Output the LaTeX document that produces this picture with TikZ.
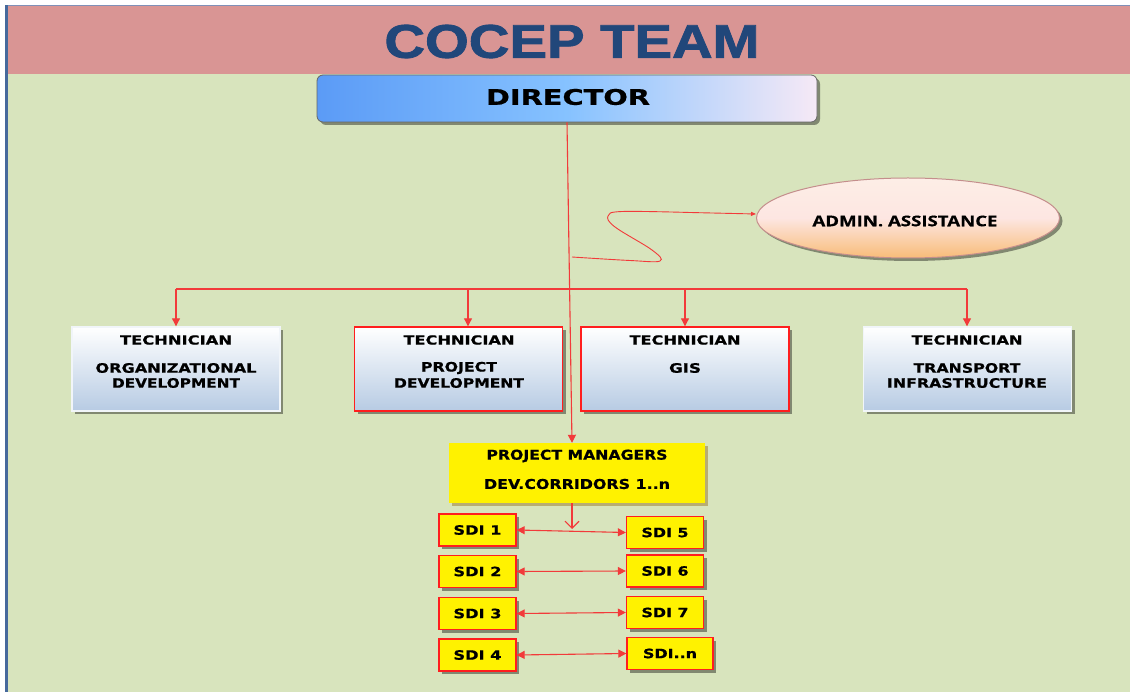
\documentclass[tikz,border=0pt]{standalone}
\usepackage{graphicx}
\usepackage{fontspec}
\setmainfont{DejaVu Sans}[BoldFeatures={FakeBold=0.6}]
\newfontfamily\titlefont{Liberation Sans Bold}[FakeBold=1.6]
\newfontfamily\adminfont{Open Sans}[BoldFeatures={FakeBold=0.4}]
\usetikzlibrary{arrows.meta,shadows,shapes.geometric}

% one line of text stretched to a given width and cap height (in pt)
\newcommand{\fitline}[3]{\resizebox{#1pt}{#2pt}{#3}}

\definecolor{bandpink}{HTML}{D99594}
\definecolor{bandgreen}{HTML}{D8E4BD}
\definecolor{frameblue}{HTML}{46699C}
\definecolor{topline}{HTML}{8090B8}
\definecolor{titleblue}{HTML}{21477A}
\definecolor{dirleft}{HTML}{5B9BF6}
\definecolor{dirmid}{HTML}{86C2FF}
\definecolor{dirright}{HTML}{F6E9F6}
\definecolor{techblue}{HTML}{B7CBE3}
\definecolor{admtop}{HTML}{FDEEE6}
\definecolor{admmid}{HTML}{FDE6E2}
\definecolor{admbot}{HTML}{F8BC78}
\definecolor{admedge}{HTML}{C48E8C}
\definecolor{linered}{HTML}{F23A3A}
\definecolor{boxred}{HTML}{FF1E1E}
\definecolor{pmshadow}{HTML}{B0A060}

\begin{document}
\begin{tikzpicture}[x=1pt,y=-1pt,
  conn/.style={draw=linered, line width=1.1pt},
  arr/.style={conn, -{Triangle[length=8pt,width=8pt]}},
  dbl/.style={conn, {Triangle[length=8pt,width=8pt]}-{Triangle[length=8pt,width=8pt]}},
  boxshadow/.style={drop shadow={shadow xshift=3pt, shadow yshift=-3pt, fill=black, opacity=.4}},
  dirbox/.style={draw=gray!80!black, line width=0.8pt, rounded corners=6pt,
    left color=dirleft, right color=dirright, middle color=dirmid,
    minimum width=500, minimum height=47, inner sep=0pt, boxshadow},
  techbox/.style={draw=#1, line width=1.4pt, top color=white, bottom color=techblue,
    minimum width=208, minimum height=84, inner sep=0pt, boxshadow},
  pmbox/.style={fill=yellow, minimum width=256, minimum height=60, inner sep=0pt,
    drop shadow={shadow xshift=3pt, shadow yshift=-3pt, fill=pmshadow, opacity=.8}},
  sdibox/.style={draw=boxred, line width=1.3pt, fill=yellow, minimum width=77,
    minimum height=32, inner sep=0pt, boxshadow},
  lbl/.style={inner sep=0pt, font=\bfseries}
]
\useasboundingbox (0,0) rectangle (1130,692);

% page frame and bands
\fill[white] (0,0) rectangle (1130,692);
\fill[bandgreen] (7,74) rectangle (1130,692);
\fill[bandpink] (7,6.5) rectangle (1130,74);
\draw[topline, line width=1.5pt] (5,5.5) -- (1130,5.5);
\fill[frameblue] (4.5,5) rectangle (7.5,692);

% heading
\node[inner sep=0pt, text=titleblue] (title) at (572,41.5)
  {\titlefont\fitline{375}{33}{COCEP TEAM}};

% director
\node[dirbox] (dir) at (567,98.5) {};
\node[lbl] (dirtext) at (568,97) {\fitline{164}{16}{DIRECTOR}};

% admin assistance
\node[ellipse, draw=admedge, line width=1pt, top color=admtop, bottom color=admbot,
  middle color=admmid, minimum width=303, minimum height=80, boxshadow] (adm) at (908,218) {};
\node[inner sep=0pt] (admtext) at (905,221) {\adminfont\bfseries\fitline{185}{10.7}{ADMIN. ASSISTANCE}};

% technicians
\node[techbox=white!80!techblue] (t1) at (176,369) {};
\node[techbox=boxred] (t2) at (458.5,369) {};
\node[techbox=boxred] (t3) at (685,369) {};
\node[techbox=white!80!techblue] (t4) at (967.5,369) {};

\node[lbl] (t1a) at (176,340) {\fitline{112}{9.3}{TECHNICIAN}};
\node[lbl] (t1b) at (176,368) {\fitline{161}{9.6}{ORGANIZATIONAL}};
\node[lbl] (t1c) at (176,383) {\fitline{128}{9.6}{DEVELOPMENT}};
\node[lbl] (t2a) at (459,340) {\fitline{111}{9.3}{TECHNICIAN}};
\node[lbl] (t2b) at (459,368) {\fitline{76}{9.6}{PROJECT}};
\node[lbl] (t2c) at (459,383) {\fitline{130}{9.6}{DEVELOPMENT}};
\node[lbl] (t3a) at (685,340) {\fitline{111}{9.3}{TECHNICIAN}};
\node[lbl] (t3b) at (685,368) {\fitline{32}{9.6}{GIS}};
\node[lbl] (t4a) at (967,340) {\fitline{111}{9.3}{TECHNICIAN}};
\node[lbl] (t4b) at (967,368) {\fitline{107}{9.6}{TRANSPORT}};
\node[lbl] (t4c) at (967,383) {\fitline{160}{9.6}{INFRASTRUCTURE}};

% project managers
\node[pmbox] (pm) at (577,473) {};
\node[lbl] (pma) at (577,456) {\fitline{181}{10}{PROJECT MANAGERS}};
\node[lbl] (pmb) at (577,484) {\fitline{186}{10}{DEV.CORRIDORS 1..n}};

% SDI boxes
\node[sdibox] (s1) at (477.5,530) {\fitline{48}{9.5}{\bfseries SDI 1}};
\node[sdibox] (s2) at (477.5,571.5) {\fitline{48}{9.5}{\bfseries SDI 2}};
\node[sdibox] (s3) at (477.5,613.5) {\fitline{48}{9.5}{\bfseries SDI 3}};
\node[sdibox] (s4) at (477.5,655) {\fitline{48}{9.5}{\bfseries SDI 4}};
\node[sdibox] (s5) at (665,532.5) {\fitline{47}{9.5}{\bfseries SDI 5}};
\node[sdibox] (s6) at (665,571) {\fitline{47}{9.5}{\bfseries SDI 6}};
\node[sdibox] (s7) at (665,612.5) {\fitline{47}{9.5}{\bfseries SDI 7}};
\node[sdibox, minimum width=86] (sn) at (670,653.5) {\fitline{54}{9.5}{\bfseries SDI..n}};

% director down to the project managers
\draw[arr] (dir.south) -- ([xshift=-5pt]pm.north);

% bus to the technicians
\coordinate (b1) at (176,289);
\coordinate (b2) at (468,289);
\coordinate (b3) at (685,289);
\coordinate (b4) at (967,289);
\draw[conn] (b1) -- (b4);
\draw[arr] (b1) -- (b1 |- t1.north);
\draw[arr] (b2) -- (b2 |- t2.north);
\draw[arr] (b3) -- (b3 |- t3.north);
\draw[arr] (b4) -- (b4 |- t4.north);

% winding link to admin assistance
\coordinate (tap) at (572,257);
\draw[conn, line width=0.9pt, -{Triangle[length=5pt,width=4pt]}]
  plot[smooth, tension=0.6] coordinates {(tap) (630,260.5) (660,261) (652,250)
    (615,227) (608,216) (622,211.5) (690,212.5)} -- ([yshift=4pt]adm.west);

% project managers down to the SDI links
\coordinate (j) at (572,529);
\draw[conn, -{Straight Barb[length=7pt,width=14pt]}] ([xshift=-5pt]pm.south) -- (j);
\draw[dbl] (s1.east) -- (s5.west);
\draw[dbl] (s2.east) -- (s6.west);
\draw[dbl] (s3.east) -- (s7.west);
\draw[dbl] (s4.east) -- (sn.west);
\end{tikzpicture}
\end{document}
